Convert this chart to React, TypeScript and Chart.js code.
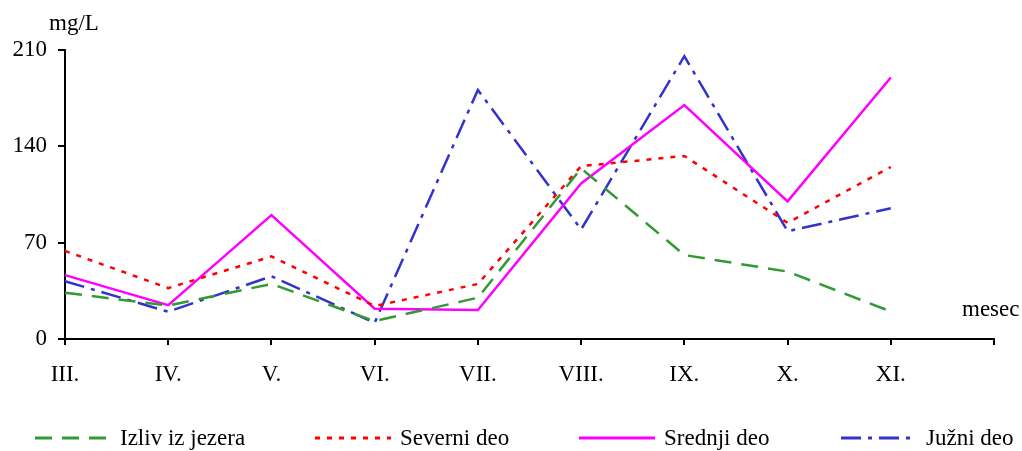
import React, { useEffect, useRef } from "react";
import { Chart, registerables } from "chart.js";

Chart.register(...registerables);

const MONTHS = ["III.", "IV.", "V.", "VI.", "VII.", "VIII.", "IX.", "X.", "XI.", ""];
const IZLIV = [33.6, 24.3, 40, 13, 30, 124, 61, 49, 20];
const SEVERNI = [64, 37, 60, 24, 40, 125.6, 133, 84.4, 125];
const SREDNJI = [46.4, 24.6, 90, 22, 21, 113, 170, 100, 190];
const JUZNI = [42, 19.8, 45.6, 11.8, 181, 79.6, 205.5, 78.3, 95];
const Y_TICKS = [0, 70, 140, 210];
const SERIES_NAMES = ["Izliv iz jezera", "Severni deo", "Srednji deo", "Južni deo"];
const Y_UNIT = "mg/L";
const X_UNIT = "mesec";

const FONT = "'Liberation Serif', 'Times New Roman', serif";
const FS = 23;
const LEGEND_X = [35, 315, 579, 841];

const extraText = {
  id: "extraText",
  afterDraw(chart: any) {
    const ctx = chart.ctx;
    ctx.save();
    ctx.font = `${FS}px ${FONT}`;
    ctx.fillStyle = "#000";
    ctx.textBaseline = "alphabetic";
    ctx.textAlign = "left";
    ctx.fillText(Y_UNIT, 49, 30);
    ctx.fillText(X_UNIT, 962, 316);
    // legend
    const ly = 438;
    chart.data.datasets.forEach((ds: any, i: number) => {
      const x0 = LEGEND_X[i];
      ctx.save();
      ctx.strokeStyle = ds.borderColor;
      ctx.lineWidth = 3;
      ctx.setLineDash(ds.borderDash || []);
      ctx.beginPath();
      ctx.moveTo(x0, ly);
      ctx.lineTo(x0 + 76, ly);
      ctx.stroke();
      ctx.restore();
      ctx.textBaseline = "middle";
      ctx.fillText(ds.label, x0 + 85, ly + 1);
    });
    ctx.restore();
  },
};

export default function App() {
  const ref = useRef<HTMLCanvasElement>(null);
  useEffect(() => {
    if (!ref.current) return;
    const chart = new Chart(ref.current, {
      type: "line",
      data: {
        labels: MONTHS,
        datasets: [
          { label: SERIES_NAMES[0], data: IZLIV, borderColor: "#339933", borderDash: [17, 10], borderWidth: 2.5, pointRadius: 0, tension: 0 },
          { label: SERIES_NAMES[1], data: SEVERNI, borderColor: "#ff0000", borderDash: [5, 7], borderWidth: 2.5, pointRadius: 0, tension: 0 },
          { label: SERIES_NAMES[2], data: SREDNJI, borderColor: "#ff00ff", borderDash: [], borderWidth: 2.5, pointRadius: 0, tension: 0 },
          { label: SERIES_NAMES[3], data: JUZNI, borderColor: "#3333cc", borderDash: [20, 7, 4, 7], borderWidth: 2.5, pointRadius: 0, tension: 0 },
        ],
      },
      options: {
        responsive: false,
        animation: false,
        layout: { padding: { top: 50, right: 28, bottom: 61, left: 0 } },
        plugins: { legend: { display: false }, tooltip: { enabled: false }, title: { display: false } },
        scales: {
          x: {
            type: "category",
            offset: false,
            grid: { drawOnChartArea: false, drawTicks: true, tickLength: 6, color: "#000", lineWidth: 2 },
            border: { display: true, color: "#000", width: 2 },
            ticks: { color: "#000", font: { family: FONT, size: FS }, padding: 16, maxRotation: 0, autoSkip: false },
            afterFit: (s: any) => { s.height = 51; },
          },
          y: {
            min: 0,
            max: 210,
            afterBuildTicks: (s: any) => { s.ticks = Y_TICKS.map((v) => ({ value: v })); },
            grid: { drawOnChartArea: false, drawTicks: true, tickLength: 7, color: "#000", lineWidth: 2 },
            border: { display: true, color: "#000", width: 2 },
            ticks: { color: "#000", font: { family: FONT, size: FS }, padding: 11 },
            afterFit: (s: any) => { s.width = 65; },
          },
        },
      },
      plugins: [extraText],
    });
    return () => chart.destroy();
  }, []);
  return (
    <div style={{ position: "absolute", left: 0, top: 0, width: 1022, height: 451, background: "#fff" }}>
      <canvas ref={ref} width={1022} height={451} style={{ display: "block" }} />
    </div>
  );
}
